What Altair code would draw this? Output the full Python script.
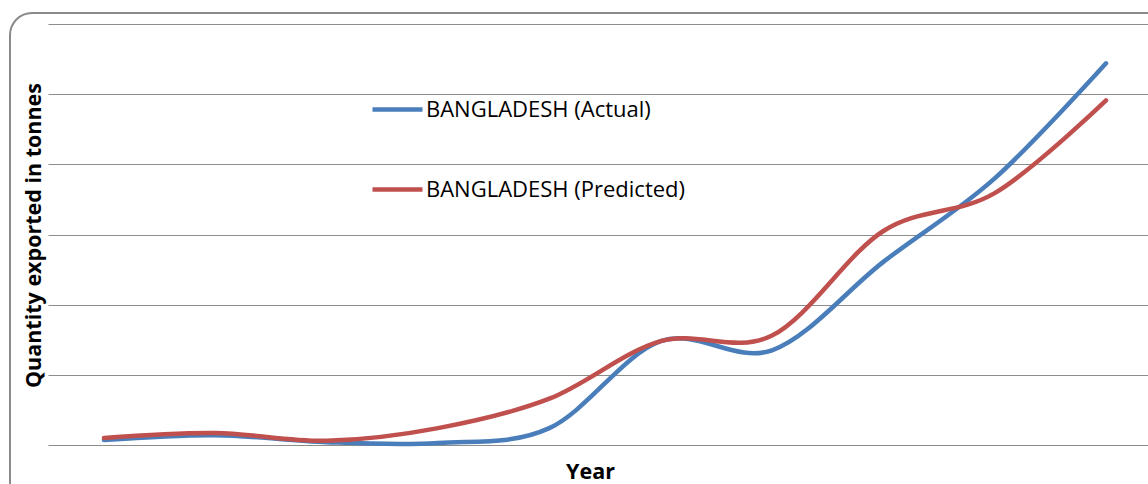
import altair as alt
import pandas as pd

years = [2005, 2006, 2007, 2008, 2009, 2010, 2011, 2012, 2013, 2014]
actual = [700, 1400, 400, 300, 2400, 14800, 13500, 26100, 38000, 54400]
predicted = [1000, 1700, 600, 2400, 6600, 14800, 15600, 30500, 35900, 49100]
series_names = ["BANGLADESH (Actual)", "BANGLADESH (Predicted)"]
series_colors = ["#4A7EBB", "#C0504D"]
y_ticks = [0, 10000, 20000, 30000, 40000, 50000, 60000]

rows = []
for yr, a, p in zip(years, actual, predicted):
    rows.append({"Year": yr, "Series": series_names[0], "Value": a})
    rows.append({"Year": yr, "Series": series_names[1], "Value": p})
df = pd.DataFrame(rows)

W, H = 1100, 421
FONT = "Open Sans"

frame = alt.Chart(pd.DataFrame({"k": [0]})).mark_rect(
    fill=None, stroke="#8a8a8a", strokeWidth=2, cornerRadius=22
).encode(
    x=alt.value(-38), x2=alt.value(W + 20),
    y=alt.value(-11), y2=alt.value(H + 60)
)

lines = alt.Chart(df).mark_line(
    interpolate="cardinal", tension=0, strokeWidth=4.5, strokeCap="round"
).encode(
    x=alt.X("Year:Q",
            scale=alt.Scale(domain=[2004.497, 2014.377], nice=False, zero=False),
            axis=alt.Axis(title="Year", labels=False, ticks=False, domain=False,
                          grid=False, titleFont=FONT, titleFontSize=21.5,
                          titleFontWeight="bold", titleColor="#000000",
                          titleX=542, titleY=33, titleBaseline="alphabetic",
                          titleAlign="center")),
    y=alt.Y("Value:Q",
            scale=alt.Scale(domain=[0, 60000], nice=False),
            axis=alt.Axis(title="Quantity exported in tonnes", values=y_ticks,
                          labels=False, ticks=False, domain=False, grid=True,
                          gridColor="#8c8c8c", gridWidth=1.2,
                          titleFont=FONT, titleFontSize=21.5, titleFontWeight="bold",
                          titleColor="#000000", titleAngle=-90,
                          titleX=-8, titleY=211, titleBaseline="alphabetic",
                          titleAlign="center")),
    color=alt.Color("Series:N",
                    scale=alt.Scale(domain=series_names, range=series_colors),
                    legend=alt.Legend(title=None, orient="none", legendX=322,
                                      legendY=58, symbolType="stroke",
                                      symbolSize=2500, symbolStrokeWidth=4.5,
                                      rowPadding=41, labelFont=FONT,
                                      labelFontSize=22, labelColor="#000000",
                                      labelOffset=1, labelLimit=400))
)

chart = alt.layer(frame, lines).properties(
    width=W, height=H,
    autosize=alt.AutoSizeParams(type="none"),
    padding={"left": 48, "top": 24, "right": 0, "bottom": 39},
    background="white"
).configure_view(stroke=None)

chart.save("out.html", embed_options={"renderer": "svg", "actions": False})
